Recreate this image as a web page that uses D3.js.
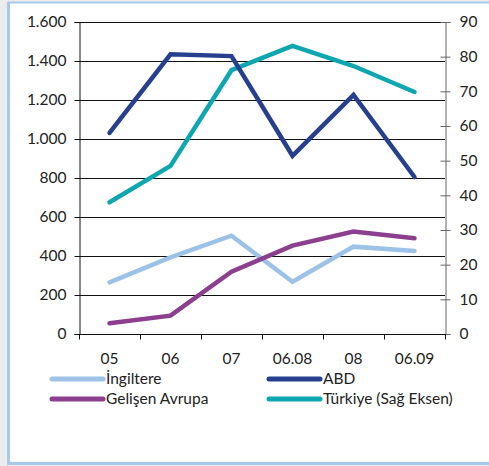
<!DOCTYPE html>
<html>
<head>
<meta charset="utf-8">
<script src="https://cdn.jsdelivr.net/npm/d3@7"></script>
<style>
  html, body { margin: 0; padding: 0; background: #ececee; }
  svg { display: block; }
  text { font-family: Lato, sans-serif; fill: #222; }
</style>
</head>
<body>
<svg id="chart" width="489" height="466"></svg>
<script>
// Periods on the x axis
const categories = ["05", "06", "07", "06.08", "08", "06.09"];

// Left-axis series
const ingiltere = [265, 393, 504, 268, 448, 426];
const abd = [1031, 1434, 1425, 914, 1226, 805];
const gelisenAvrupa = [55, 94, 320, 453, 525, 491];

// Right-axis series
const turkiye = [38, 48.5, 76.1, 83.1, 77.3, 69.8];

// Axis ticks
const leftTicks = [0, 200, 400, 600, 800, 1000, 1200, 1400, 1600];
const rightTicks = [0, 10, 20, 30, 40, 50, 60, 70, 80, 90];

const seriesNames = ["İngiltere", "ABD", "Gelişen Avrupa", "Türkiye (Sağ Eksen)"];
const seriesColors = ["#9cc2e8", "#263f8f", "#8c3f8f", "#0ea7b1"];

const fontFamily = "Lato, sans-serif";
const fontSize = 15.5;

const svg = d3.select("#chart");

// Panel with a light blue frame
svg.append("rect").attr("x", 8.5).attr("y", 2.5).attr("width", 490).attr("height", 459)
  .attr("fill", "#fff");
svg.append("line").attr("x1", 8).attr("x2", 489).attr("y1", 2.5).attr("y2", 2.5)
  .attr("stroke", "#a6c9ec").attr("stroke-width", 2);
svg.append("line").attr("x1", 8.5).attr("x2", 8.5).attr("y1", 2).attr("y2", 465)
  .attr("stroke", "#a6c9ec").attr("stroke-width", 3);
svg.append("line").attr("x1", 7).attr("x2", 489).attr("y1", 463.5).attr("y2", 463.5)
  .attr("stroke", "#a6c9ec").attr("stroke-width", 3);

const plotLeft = 79, plotRight = 445, plotTop = 22, plotBottom = 334;

const x = d3.scaleBand().domain(categories).range([plotLeft, plotRight]);
const yL = d3.scaleLinear().domain([0, 1600]).range([plotBottom, plotTop]);
const yR = d3.scaleLinear().domain([0, 90]).range([plotBottom, plotTop]);

const fmt = d => d3.format(",")(d).replace(/,/g, ".");

// Horizontal gridlines from the left axis
svg.append("g").selectAll("line").data(leftTicks.filter(d => d > 0)).join("line")
  .attr("x1", plotLeft).attr("x2", plotRight)
  .attr("y1", d => Math.round(yL(d)) + 0.5).attr("y2", d => Math.round(yL(d)) + 0.5)
  .attr("stroke", "#111").attr("stroke-width", 1);

// Left axis
const gL = svg.append("g").attr("transform", `translate(${plotLeft + 0.5},0)`)
  .call(d3.axisLeft(yL).tickValues(leftTicks).tickFormat(fmt).tickSize(5).tickPadding(8));
gL.select(".domain").attr("stroke", "#111");
gL.selectAll(".tick line").attr("stroke", "#111");
gL.selectAll(".tick text").attr("font-size", fontSize).attr("font-family", fontFamily).attr("fill", "#222");

// Right axis with ticks crossing the line
const gR = svg.append("g").attr("transform", `translate(${plotRight + 0.5},0)`)
  .call(d3.axisRight(yR).tickValues(rightTicks).tickSize(5).tickPadding(9));
gR.select(".domain").attr("stroke", "#666");
gR.selectAll(".tick line").attr("stroke", "#666").attr("x1", -5);
gR.selectAll(".tick text").attr("font-size", fontSize).attr("font-family", fontFamily).attr("fill", "#222");

// Bottom axis: ticks on the category boundaries
const gB = svg.append("g").attr("transform", `translate(0,${plotBottom + 0.5})`);
gB.append("line").attr("x1", plotLeft).attr("x2", plotRight + 1).attr("stroke", "#111");
const bounds = categories.map(c => x(c)).concat([plotRight]);
gB.selectAll("line.tk").data(bounds).join("line").attr("class", "tk")
  .attr("x1", d => Math.round(d) + 0.5).attr("x2", d => Math.round(d) + 0.5)
  .attr("y1", 0).attr("y2", 5).attr("stroke", "#111");
gB.selectAll("text").data(categories).join("text")
  .attr("x", d => x(d) + x.bandwidth() / 2).attr("y", 29)
  .attr("text-anchor", "middle").attr("font-size", fontSize).text(d => d);

// Series lines
const cx = c => x(c) + x.bandwidth() / 2;
const lineL = d3.line().x((d, i) => cx(categories[i])).y(d => yL(d));
const lineR = d3.line().x((d, i) => cx(categories[i])).y(d => yR(d));
const drawn = [
  { data: ingiltere, gen: lineL, color: seriesColors[0] },
  { data: gelisenAvrupa, gen: lineL, color: seriesColors[2] },
  { data: turkiye, gen: lineR, color: seriesColors[3] },
  { data: abd, gen: lineL, color: seriesColors[1] }
];
drawn.forEach(s => {
  svg.append("path").attr("d", s.gen(s.data)).attr("fill", "none")
    .attr("stroke", s.color).attr("stroke-width", 4.5)
    .attr("stroke-linejoin", "miter").attr("stroke-linecap", "round");
});

// Legend, two columns
const legendPos = [[52, 379], [269, 379], [52, 399], [269, 399]];
seriesNames.forEach((name, i) => {
  const [lx, ly] = legendPos[i];
  svg.append("line").attr("x1", lx).attr("x2", lx + 51).attr("y1", ly).attr("y2", ly)
    .attr("stroke", seriesColors[i]).attr("stroke-width", 5).attr("stroke-linecap", "round");
  svg.append("text").attr("x", lx + 54).attr("y", ly + 5).attr("font-size", fontSize).text(name);
});
</script>
</body>
</html>
